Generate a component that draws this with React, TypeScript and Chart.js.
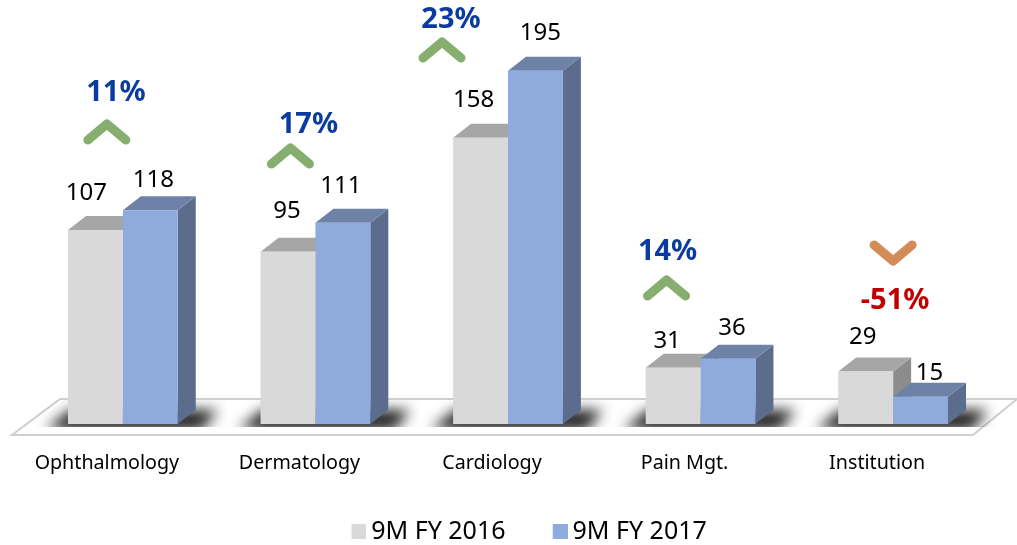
import React, { useEffect, useRef } from "react";
import { Chart, registerables } from "chart.js";

Chart.register(...registerables);

const categories = ["Ophthalmology", "Dermatology", "Cardiology", "Pain Mgt.", "Institution"];
const fy2016 = [107, 95, 158, 31, 29];
const fy2017 = [118, 111, 195, 36, 15];
const growthLabels = ["11%", "17%", "23%", "14%", "-51%"];
const seriesNames = ["9M FY 2016", "9M FY 2017"];

const FONT = "'Noto Sans'";
const DEPTH_X = 18;
const DEPTH_Y = 14;
const valueOffsets = [
  [[-9, -37], [3, -30]],
  [[-1, -41], [-2, -37]],
  [[-7, -38], [5, -38]],
  [[-6, -27], [4, -31]],
  [[-3, -34], [9, -24]],
];
const growthPos = [[-7, 93, -16, 132], [-7, 125, -25, 156], [-57, 20, -66, 50], [-33, 252, -34, 288], [2, 301, 0, 253]];

const faces = [
  { front: "#D9D9D9", top: "#A6A6A6", side: "#8C8C8C" },
  { front: "#8FAADC", top: "#6E82A8", side: "#5C6C8C" },
];

function poly(ctx: CanvasRenderingContext2D, pts: number[][]) {
  ctx.beginPath();
  pts.forEach(([x, y], i) => (i ? ctx.lineTo(x, y) : ctx.moveTo(x, y)));
  ctx.closePath();
}

const scene = {
  id: "scene",
  afterLayout(chart: any) {
    const lg = chart.legend;
    lg.left += 21;
    lg.right += 21;
    lg.top = 472;
    lg.bottom = chart.height;
    lg.height = lg.bottom - lg.top;
  },
  beforeDatasetsDraw(chart: any) {
    const ctx: CanvasRenderingContext2D = chart.ctx;
    const base = chart.scales.y.getPixelForValue(0);
    ctx.save();
    poly(ctx, [[12, base + 11], [973, base + 11], [1017, base - 25], [60, base - 25]]);
    ctx.fillStyle = "#FFFFFF";
    ctx.fill();
    ctx.strokeStyle = "#CFCFCF";
    ctx.lineWidth = 2;
    ctx.stroke();
    ctx.restore();

    const m0 = chart.getDatasetMeta(0).data;
    const m1 = chart.getDatasetMeta(1).data;
    m0.forEach((bar: any, i: number) => {
      const x0 = bar.x - bar.width / 2;
      const x1 = m1[i].x + m1[i].width / 2;
      ctx.save();
      ctx.beginPath();
      ctx.rect(x0 - 40, base - 24, x1 - x0 + 90, 27);
      ctx.clip();
      ctx.filter = "blur(7px)";
      poly(ctx, [[x0 - 22, base + 6], [x0 + 2, base - 14], [x1 + 40, base - 14], [x1 + 24, base + 6]]);
      ctx.fillStyle = "#1E1E1E";
      ctx.fill();
      ctx.restore();
    });

    [0, 1].forEach((d) => {
      chart.getDatasetMeta(d).data.forEach((bar: any) => {
        const l = bar.x - bar.width / 2;
        const r = bar.x + bar.width / 2;
        const t = bar.y;
        const b = bar.base;
        poly(ctx, [[r, t], [r + DEPTH_X, t - DEPTH_Y], [r + DEPTH_X, b - DEPTH_Y], [r, b]]);
        ctx.fillStyle = faces[d].side;
        ctx.fill();
        poly(ctx, [[l, t], [l + DEPTH_X, t - DEPTH_Y], [r + DEPTH_X, t - DEPTH_Y], [r, t]]);
        ctx.fillStyle = faces[d].top;
        ctx.fill();
      });
    });
  },
  afterDatasetsDraw(chart: any) {
    const ctx: CanvasRenderingContext2D = chart.ctx;
    ctx.save();
    ctx.textAlign = "center";
    ctx.textBaseline = "middle";
    ctx.fillStyle = "#000000";
    ctx.font = `24px ${FONT}`;
    [0, 1].forEach((d) => {
      chart.getDatasetMeta(d).data.forEach((bar: any, i: number) => {
        const [dx, dy] = valueOffsets[i][d];
        ctx.fillText(String(chart.data.datasets[d].data[i]), bar.x + dx, bar.y + dy);
      });
    });
    const sx = chart.scales.x;
    growthLabels.forEach((label, i) => {
      const cx = sx.getPixelForValue(i);
      const [tx, ty, cxo, cy] = growthPos[i];
      const up = !label.startsWith("-");
      ctx.font = `bold 29px ${FONT}`;
      ctx.fillStyle = up ? "#0B3B9E" : "#C00000";
      ctx.fillText(label, cx + tx, ty);
      const s = up ? 1 : -1;
      ctx.beginPath();
      ctx.moveTo(cx + cxo - 19, cy + 8 * s);
      ctx.lineTo(cx + cxo, cy - 8 * s);
      ctx.lineTo(cx + cxo + 19, cy + 8 * s);
      ctx.strokeStyle = up ? "#86AE6E" : "#D38B57";
      ctx.lineWidth = 9;
      ctx.lineCap = "round";
      ctx.lineJoin = "round";
      ctx.stroke();
    });
    ctx.restore();
  },
};

function swatch(color: string) {
  const c = document.createElement("canvas");
  c.width = 23;
  c.height = 15;
  const g = c.getContext("2d")!;
  g.fillStyle = color;
  g.fillRect(8, 0, 15, 15);
  return c;
}

export default function App() {
  const ref = useRef<HTMLCanvasElement>(null);
  useEffect(() => {
    const chart = new Chart(ref.current!, {
      type: "bar",
      data: {
        labels: categories,
        datasets: [
          { label: seriesNames[0], data: fy2016, backgroundColor: faces[0].front, barPercentage: 1, categoryPercentage: 0.57 },
          { label: seriesNames[1], data: fy2017, backgroundColor: faces[1].front, barPercentage: 1, categoryPercentage: 0.57 },
        ],
      },
      options: {
        animation: false,
        responsive: false,
        layout: { padding: { left: 26.6, right: 27.6, top: 0, bottom: 0 } },
        scales: {
          y: { display: false, min: 0, max: 234 },
          x: {
            grid: { display: false, drawTicks: false },
            border: { display: false },
            afterFit: (s: any) => { s.height = 60; },
            ticks: {
              padding: 28,
              labelOffset: -16,
              autoSkip: false,
              maxRotation: 0,
              color: "#000000",
              font: { family: FONT, size: 19.7 },
            },
          },
        },
        plugins: {
          tooltip: { enabled: false },
          legend: {
            position: "bottom",
            maxHeight: 61,
            labels: {
              usePointStyle: true,
              boxWidth: 7.5,
              boxHeight: 15,
              padding: 47,
              color: "#000000",
              font: { family: FONT, size: 25 },
              generateLabels: () =>
                seriesNames.map((text, i) => ({
                  text,
                  fillStyle: faces[i].front,
                  strokeStyle: faces[i].front,
                  lineWidth: 0,
                  pointStyle: swatch(faces[i].front),
                  datasetIndex: i,
                  hidden: false,
                })),
            },
          },
        },
      } as any,
      plugins: [scene as any],
    });
    return () => chart.destroy();
  }, []);
  return (
    <div style={{ position: "absolute", left: 0, top: 0 }}>
      <canvas ref={ref} width={1017} height={545} style={{ display: "block" }} />
    </div>
  );
}
